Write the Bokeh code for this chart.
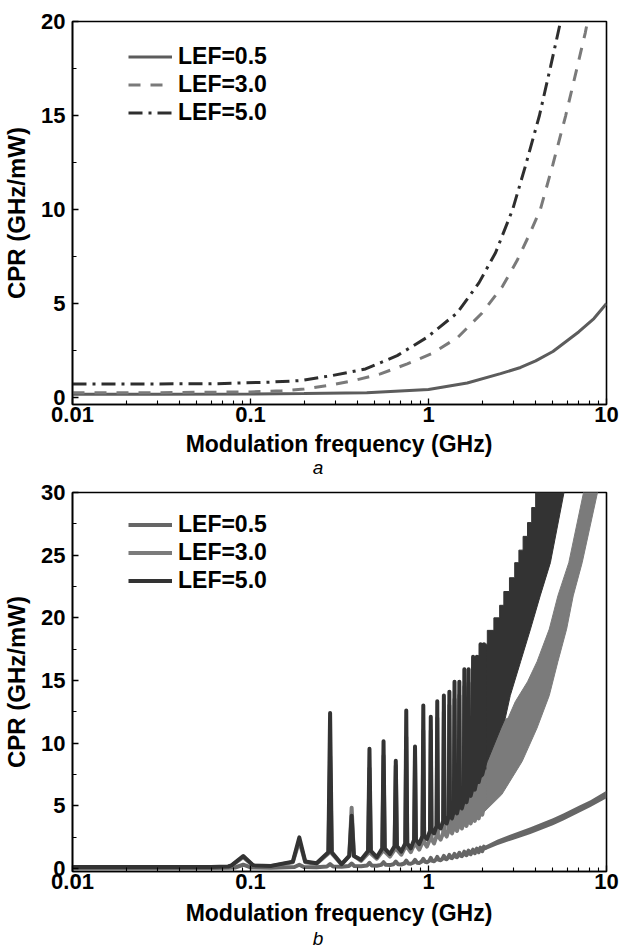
from bokeh.plotting import figure
from bokeh.layouts import column
from bokeh.models import (FixedTicker, CustomJSTickFormatter, Legend, LegendItem,
                          Range1d, Div)
from bokeh.embed import file_html
from bokeh.resources import INLINE

# ---------------- panel a : smooth CPR curves ----------------
a_f05 = [0.01, 0.03, 0.1, 0.2, 0.45, 1.0, 1.65, 2.54, 3.29, 4.0, 5.0, 7.0, 8.5, 10.0]
a_v05 = [0.17, 0.18, 0.19, 0.21, 0.26, 0.43, 0.77, 1.27, 1.6, 1.95, 2.45, 3.5, 4.2, 5.0]

a_f30 = [0.01, 0.03, 0.1, 0.15, 0.2, 0.275, 0.38, 0.537, 0.76, 1.05, 1.46, 2.0,
         2.6, 3.15, 3.7, 4.25, 5.0, 5.9, 6.7, 7.6, 8.2]
a_v30 = [0.25, 0.26, 0.3, 0.36, 0.45, 0.65, 0.9, 1.26, 1.79, 2.35, 3.2, 4.5,
         5.9, 7.3, 8.7, 10.0, 12.4, 15.0, 17.2, 19.4, 21.0]

a_f50 = [0.01, 0.06, 0.129, 0.19, 0.288, 0.443, 0.667, 0.98, 1.45, 1.92, 2.38,
         2.97, 3.5, 4.2, 4.85, 5.52, 5.9]
a_v50 = [0.72, 0.73, 0.82, 0.9, 1.17, 1.52, 2.23, 3.2, 4.5, 6.1, 7.7,
         10.0, 12.3, 15.0, 17.6, 20.0, 21.5]

# ---------------- panel b : resonant CPR curves ----------------
peak_f = [0.091, 0.188, 0.280, 0.370, 0.466, 0.559, 0.655, 0.750, 0.840, 0.935,
          1.03, 1.12, 1.22, 1.31, 1.40, 1.49, 1.59, 1.68, 1.78, 1.87, 1.96, 2.05]
peak_w = [0.14, 0.08, 0.022, 0.03, 0.018, 0.016, 0.015, 0.013, 0.012, 0.011,
          0.010, 0.009, 0.009, 0.008, 0.008, 0.008, 0.007, 0.007, 0.007, 0.007,
          0.006, 0.006]
trough_f = [0.13, 0.235, 0.325, 0.418, 0.512, 0.607, 0.703, 0.795, 0.887, 0.98,
            1.075, 1.17, 1.265, 1.355, 1.445, 1.54, 1.635, 1.725, 1.82, 1.915, 2.005]
lead_f = [0.01, 0.06, 0.075]

# LEF = 5.0
lead5 = [0.12, 0.12, 0.16]
peak5 = [1.0, 2.48, 12.4, 4.2, 9.55, 10.15, 8.6, 12.6, 9.74, 13.0, 12.1, 13.35,
         13.8, 14.1, 14.9, 14.9, 15.9, 15.9, 16.9, 16.9, 17.9, 17.9]
foot5 = [0.25, 0.55, 1.3, 1.0, 1.4, 1.6, 1.8, 2.0, 2.3, 2.6, 3.0, 3.4, 3.8, 4.2,
         4.6, 5.0, 5.4, 5.9, 6.4, 6.9, 7.4, 7.9]
trough5 = [0.2, 0.42, 0.35, 0.69, 0.9, 1.15, 1.35, 1.6, 1.95, 2.35, 2.8, 3.2, 3.6,
           4.0, 4.4, 4.8, 5.3, 5.8, 6.3, 6.9, 7.5]
band5_up_f = [2.05, 2.14, 2.33, 2.51, 2.65, 2.85, 3.05, 3.22, 3.4, 3.6, 3.8, 4.0, 4.2]
band5_up_v = [17.9, 19.0, 20.0, 21.0, 22.1, 23.2, 24.4, 25.4, 26.5, 27.6, 28.8, 30.0, 31.5]
band5_lo_f = [2.05, 2.14, 2.55, 2.7, 2.88, 3.29, 3.74, 4.24, 4.84, 5.77, 6.0]
band5_lo_v = [7.8, 8.55, 11.2, 12.0, 13.8, 16.5, 19.1, 21.75, 24.4, 30.0, 31.5]

# LEF = 3.0
lead3 = [0.1, 0.1, 0.14]
peak3 = [0.9, 2.2, 9.0, 4.85, 8.0, 9.0, 8.2, 10.5, 9.0, 11.0, 11.0, 12.0, 12.5,
         13.0, 13.5, 13.8, 14.5, 14.8, 15.5, 15.8, 16.5, 16.8]
foot3 = [0.22, 0.5, 1.2, 1.0, 1.2, 1.35, 1.5, 1.7, 1.9, 2.1, 2.35, 2.6, 2.85,
         3.1, 3.3, 3.5, 3.7, 3.9, 4.1, 4.3, 4.5, 4.8]
trough3 = [0.18, 0.38, 0.32, 0.6, 0.78, 0.95, 1.1, 1.3, 1.5, 1.75, 2.0, 2.3, 2.55,
           2.8, 3.0, 3.2, 3.4, 3.6, 3.8, 4.0, 4.3]
band3_up_f = [1.95, 2.3, 2.6, 2.8, 3.07, 3.6, 4.07, 4.77, 5.33, 6.14, 7.43, 7.7]
band3_up_v = [7.0, 10.0, 11.8, 12.0, 13.3, 14.9, 16.5, 19.1, 21.75, 24.4, 30.0, 31.5]
band3_lo_f = [1.95, 2.58, 3.36, 4.07, 4.77, 5.33, 5.97, 6.5, 7.3, 8.9, 9.2]
band3_lo_v = [4.2, 5.9, 8.55, 11.2, 13.8, 16.5, 19.1, 21.75, 24.4, 30.0, 31.5]

# LEF = 0.5
lead05 = [0.02, 0.03, 0.05]
peak05 = [0.3, 0.3, 0.35, 0.4, 0.45, 0.5, 0.55, 0.62, 0.68, 0.76, 0.84, 0.92,
          1.0, 1.08, 1.16, 1.25, 1.34, 1.42, 1.5, 1.58, 1.66, 1.74]
foot05 = [0.08, 0.12, 0.16, 0.2, 0.24, 0.29, 0.34, 0.4, 0.46, 0.53, 0.61, 0.69,
          0.77, 0.85, 0.93, 1.01, 1.09, 1.17, 1.25, 1.33, 1.41, 1.49]
trough05 = [0.06, 0.1, 0.14, 0.18, 0.22, 0.27, 0.32, 0.38, 0.44, 0.5, 0.58, 0.66,
            0.74, 0.82, 0.9, 0.98, 1.06, 1.14, 1.22, 1.3, 1.38]
w05 = [0.1, 0.06, 0.04, 0.035, 0.03, 0.03, 0.03, 0.025, 0.025, 0.025, 0.02, 0.02,
       0.02, 0.02, 0.02, 0.02, 0.02, 0.02, 0.02, 0.02, 0.02, 0.02]
band05_f = [2.0, 2.43, 3.0, 3.74, 5.0, 5.76, 7.0, 8.13, 10.0]
band05_lo = [1.35, 1.85, 2.3, 2.75, 3.45, 3.85, 4.45, 4.9, 5.6]
band05_up = [1.7, 2.3, 2.8, 3.3, 4.0, 4.4, 5.0, 5.45, 6.2]

x_ticks = [0.01, 0.1, 1, 10]
x_minor = [m * d for d in (0.01, 0.1, 1) for m in range(2, 10)]
legend_labels = ["LEF=0.5", "LEF=3.0", "LEF=5.0"]
x_title = "Modulation frequency (GHz)"
y_title = "CPR (GHz/mW)"

FONT = "Liberation Sans"


def spike_line(lead_v, top, foot, trough, widths):
    xs, ys = list(lead_f), list(lead_v)
    for i, f in enumerate(peak_f):
        xs += [f * (1 - widths[i]), f, f * (1 + widths[i])]
        ys += [foot[i], top[i], foot[i]]
        if i < len(trough_f):
            xs.append(trough_f[i])
            ys.append(trough[i])
    return xs, ys


def stair(fs, vs):
    xs, ys = [], []
    for i, f in enumerate(fs):
        if i > 0:
            xs.append(f)
            ys.append(vs[i - 1])
        xs.append(f)
        ys.append(vs[i])
    return xs, ys


def make_fig(height, top, bottom, yr, yticks, yminor, lab_standoff):
    p = figure(width=622, height=height, x_axis_type="log",
               x_range=Range1d(0.01, 10), y_range=Range1d(*yr),
               output_backend="svg", toolbar_location=None,
               min_border_left=72, min_border_right=16,
               min_border_top=top, min_border_bottom=bottom)
    p.grid.visible = False
    p.outline_line_color = "black"
    p.outline_line_width = 1.6
    p.outline_line_alpha = 1
    p.background_fill_color = "white"
    p.border_fill_color = "white"
    p.xaxis.ticker = FixedTicker(ticks=x_ticks, minor_ticks=x_minor)
    p.xaxis.formatter = CustomJSTickFormatter(
        code="return Number(tick.toPrecision(6)).toString();")
    p.yaxis.ticker = FixedTicker(ticks=yticks, minor_ticks=yminor)
    p.yaxis.axis_label = y_title
    for ax in (p.xaxis[0], p.yaxis[0]):
        ax.axis_line_width = 1.6
        ax.major_tick_in = 6
        ax.major_tick_out = 0
        ax.minor_tick_in = 4
        ax.minor_tick_out = 0
        ax.major_tick_line_width = 1.3
        ax.minor_tick_line_width = 1.1
        ax.major_label_text_font = FONT
        ax.major_label_text_font_style = "bold"
        ax.major_label_text_font_size = "22px"
        ax.major_label_text_color = "black"
        ax.axis_label_text_font = FONT
        ax.axis_label_text_font_style = "bold"
        ax.axis_label_text_font_size = "24px"
        ax.axis_label_text_color = "black"
    p.xaxis.major_label_standoff = lab_standoff
    p.yaxis.major_label_standoff = 7
    p.yaxis.axis_label_standoff = 8
    return p


def add_legend(p, renderers, vy, spacing):
    items = [LegendItem(label=l, renderers=[r]) for l, r in zip(legend_labels, renderers)]
    leg = Legend(items=items, location=(56, vy), padding=0, margin=0, spacing=spacing,
                 glyph_width=44, glyph_height=25, label_height=25, label_standoff=6,
                 border_line_alpha=0, background_fill_alpha=0,
                 label_text_font=FONT, label_text_font_style="bold",
                 label_text_font_size="23px", label_text_color="black")
    p.add_layout(leg)


def caption_block(letter, height, title_top, letter_top):
    html = (
        f'<div style="position:relative;width:622px;height:{height}px;'
        f'font-family:\'{FONT}\';color:black;">'
        f'<div style="position:absolute;left:72px;width:534px;top:{title_top}px;'
        f'text-align:center;font-weight:bold;font-size:23px;line-height:26px;'
        f'white-space:nowrap;">{x_title}</div>'
        f'<div style="position:absolute;left:268px;width:100px;top:{letter_top}px;'
        f'text-align:center;font-style:italic;font-size:19px;line-height:20px;">'
        f'{letter}</div></div>')
    return Div(text=html, width=622, height=height, margin=0)


# ---------- figure a ----------  (frame 21 .. 404)
pa = make_fig(431, 21, 27, (-0.37, 20), [0, 5, 10, 15, 20], [2.5, 7.5, 12.5, 17.5], 2)
ra1 = pa.line(a_f05, a_v05, line_color="#5c5c5c", line_width=3)
ra2 = pa.line(a_f30, a_v30, line_color="#7a7a7a", line_width=3, line_dash="12 10")
ra3 = pa.line(a_f50, a_v50, line_color="#2e2e2e", line_width=3, line_dash="14 6 3 6")
add_legend(pa, [ra1, ra2, ra3], 278, 1)

# ---------- figure b ----------  (frame 492 .. 871)
pb = make_fig(419, 13, 27, (-0.24, 30), [0, 5, 10, 15, 20, 25, 30],
              [2.5, 7.5, 12.5, 17.5, 22.5, 27.5], 2)
C05, C30, C50 = "#666666", "#7b7b7b", "#333333"

x05, y05 = spike_line(lead05, peak05, foot05, trough05, w05)
pb.varea(band05_f, band05_lo, band05_up, fill_color=C05)
rb1 = pb.line(x05, y05, line_color=C05, line_width=4, line_join="round")

pb.patch(band3_up_f + band3_lo_f[::-1], band3_up_v + band3_lo_v[::-1],
         fill_color=C30, line_color=C30, line_width=1)
x3, y3 = spike_line(lead3, peak3, foot3, trough3, peak_w)
rb2 = pb.line(x3, y3, line_color=C30, line_width=4, line_join="round")

sx, sy = stair(band5_up_f, band5_up_v)
pb.patch(sx + band5_lo_f[::-1], sy + band5_lo_v[::-1],
         fill_color=C50, line_color=C50, line_width=1)
x5, y5 = spike_line(lead5, peak5, foot5, trough5, peak_w)
rb3 = pb.line(x5, y5, line_color=C50, line_width=4, line_join="round")

add_legend(pb, [rb1, rb2, rb3], 277, 1)

page = column(pa, caption_block("a", 48, 0, 27), pb, caption_block("b", 52, 2, 31),
              spacing=0)
open("out.html", "w").write(file_html(page, INLINE))
